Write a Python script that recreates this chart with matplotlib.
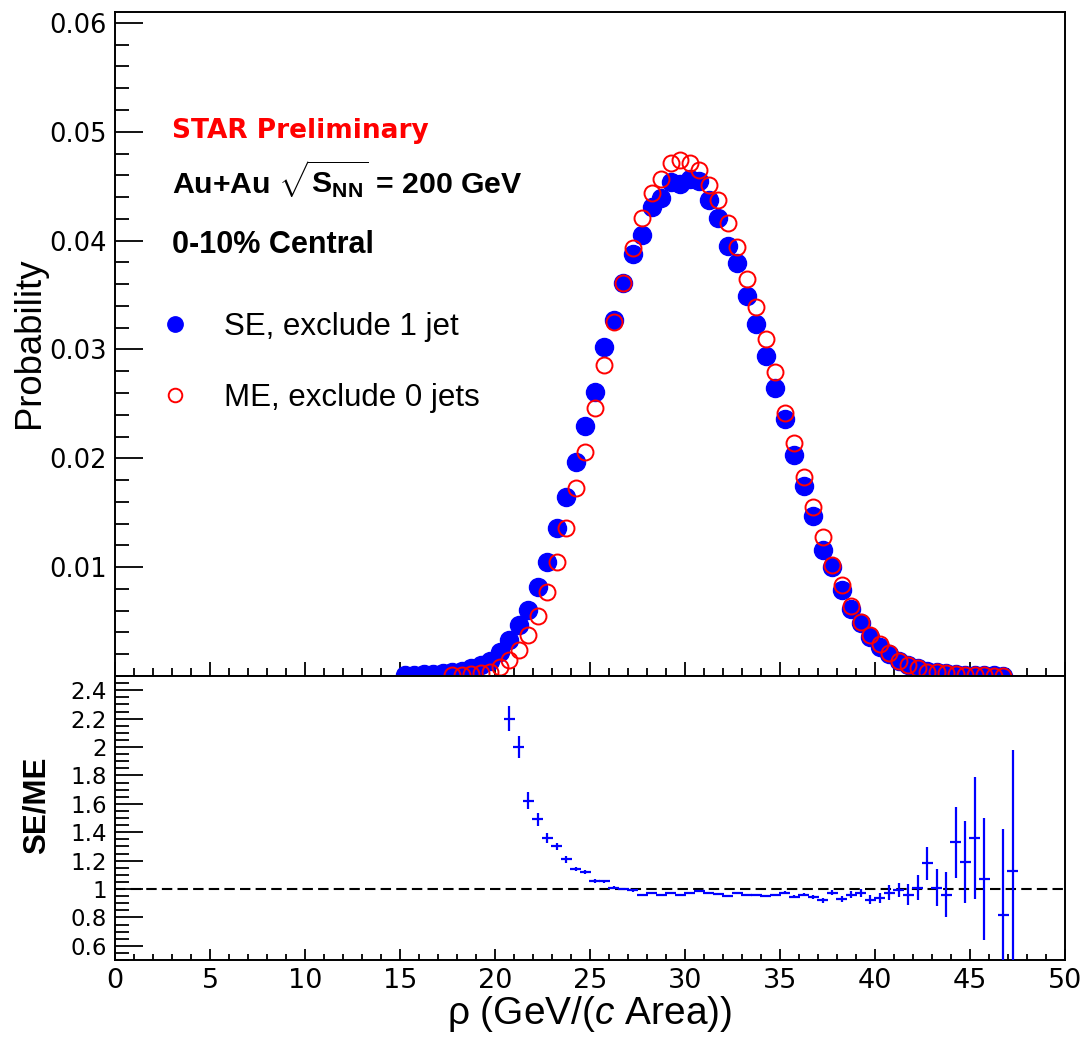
#!/usr/bin/env python3
"""SE vs ME rho distributions with SE/ME ratio panel."""
import matplotlib
matplotlib.use("Agg")
import matplotlib.pyplot as plt
import numpy as np
from matplotlib.ticker import MultipleLocator, FixedLocator

plt.rcParams["mathtext.fontset"] = "custom"
plt.rcParams["mathtext.rm"] = "Liberation Sans"
plt.rcParams["mathtext.it"] = "Liberation Sans:italic"
plt.rcParams["mathtext.bf"] = "Liberation Sans:bold"

BIN_WIDTH = 0.5

# SE, exclude 1 jet: first bin centre 15.25
se_first = 15.25
se_prob = [
    0.0001, 0.0001, 0.00015, 0.0002, 0.0003, 0.0004, 0.0005, 0.0007,
    0.0010, 0.0014, 0.0022, 0.0033, 0.0047, 0.0061, 0.0082, 0.0105,
    0.0136, 0.0164, 0.0197, 0.0230, 0.0261, 0.0302, 0.0327, 0.0361,
    0.0388, 0.0405, 0.0431, 0.0439, 0.0454, 0.0452, 0.0457, 0.0455,
    0.0437, 0.0421, 0.0395, 0.0379, 0.0349, 0.0323, 0.0294, 0.0265,
    0.0236, 0.0203, 0.0175, 0.0147, 0.0116, 0.0100, 0.0079, 0.0062,
    0.0049, 0.0036, 0.0027, 0.0020, 0.0014, 0.0010, 0.0007, 0.0005,
    0.00035, 0.00025, 0.00018, 0.00012, 0.00009, 0.00006, 0.00005, 0.00002,
]

# ME, exclude 0 jets: first bin centre 17.75
me_first = 17.75
me_prob = [
    0.00005, 0.0001, 0.00015, 0.00025, 0.0004, 0.0008, 0.0015, 0.0024,
    0.0038, 0.0055, 0.0077, 0.0105, 0.0136, 0.0173, 0.0206, 0.0246,
    0.0286, 0.0325, 0.0361, 0.0393, 0.0421, 0.0444, 0.0457, 0.0471,
    0.0474, 0.0471, 0.0465, 0.0451, 0.0437, 0.0416, 0.0394, 0.0365,
    0.0339, 0.0310, 0.0279, 0.0242, 0.0214, 0.0183, 0.0155, 0.0128,
    0.0102, 0.0084, 0.0064, 0.0050, 0.0038, 0.0029, 0.0021, 0.0014,
    0.0010, 0.0007, 0.0004, 0.00035, 0.00026, 0.00014, 0.0001, 0.00007,
    0.00006, 0.00004, 0.00003,
]

# SE/ME ratio: first bin centre 20.75 (46.25 empty)
ratio_first = 20.75
ratio = [
    2.20, 2.00, 1.62, 1.49, 1.36, 1.30, 1.21, 1.14, 1.12, 1.055,
    1.055, 1.01, 1.00, 0.99, 0.96, 0.975, 0.96, 0.97, 0.96, 0.975,
    0.985, 0.975, 0.965, 0.95, 0.97, 0.96, 0.96, 0.95, 0.96, 0.975,
    0.945, 0.96, 0.945, 0.92, 0.975, 0.93, 0.96, 0.975, 0.925, 0.935,
    0.975, 0.995, 0.96, 1.01, 1.18, 1.01, 0.96, 1.33, 1.19, 1.36,
    1.07, np.nan, 0.82, 1.13,
]
ratio_err = [
    0.09, 0.075, 0.06, 0.045, 0.035, 0.025, 0.025, 0.015, 0.015, 0.012,
    0.01, 0.01, 0.008, 0.008, 0.007, 0.007, 0.007, 0.007, 0.007, 0.007,
    0.007, 0.007, 0.007, 0.007, 0.007, 0.007, 0.007, 0.008, 0.008, 0.009,
    0.01, 0.011, 0.013, 0.016, 0.018, 0.02, 0.025, 0.028, 0.03, 0.035,
    0.05, 0.05, 0.075, 0.09, 0.117, 0.13, 0.157, 0.25, 0.29, 0.43,
    0.43, np.nan, 0.6, 0.85,
]

labels = ["SE, exclude 1 jet", "ME, exclude 0 jets"]


def centres(first, n):
    return first + BIN_WIDTH * np.arange(n)


W, H = 1086, 1038
fig = plt.figure(figsize=(W / 100, H / 100), dpi=100)
left, right = 115 / W, 1065 / W
ax1 = fig.add_axes([left, 1 - 676 / H, right - left, 664 / H])
ax2 = fig.add_axes([left, 1 - 960 / H, right - left, 284 / H])

sans = "Liberation Sans"
blue, red = "#0000ff", "#ff0000"

# top panel
ax1.plot(centres(se_first, len(se_prob)), se_prob, "o", color=blue, ms=13,
         mec=blue, label=labels[0], zorder=3)
ax1.plot(centres(me_first, len(me_prob)), me_prob, "o", color=red, ms=11.5,
         mfc="none", mew=1.4, label=labels[1], zorder=4)
ax1.set_xlim(0, 50)
ax1.set_ylim(0, 0.061)
ax1.xaxis.set_major_locator(MultipleLocator(5))
ax1.xaxis.set_minor_locator(MultipleLocator(1))
ax1.yaxis.set_major_locator(FixedLocator([0.01, 0.02, 0.03, 0.04, 0.05, 0.06]))
ax1.yaxis.set_minor_locator(MultipleLocator(0.002))
ax1.tick_params(axis="x", which="both", direction="inout", labelbottom=False)
ax1.tick_params(axis="x", which="major", length=20, width=1.3)
ax1.tick_params(axis="x", which="minor", length=11, width=1.3)
ax1.tick_params(axis="y", which="both", direction="in")
ax1.tick_params(axis="y", which="major", length=20, width=1.3, labelsize=18.5, pad=6)
ax1.tick_params(axis="y", which="minor", length=10, width=1.3)
ax1.set_yticklabels(["0.01", "0.02", "0.03", "0.04", "0.05", "0.06"])

ax1.text(172 / W, 1 - 138 / H, "STAR Preliminary", transform=fig.transFigure,
         color=red, fontsize=19, fontweight="bold", family="DejaVu Sans")
ax1.text(172 / W, 1 - 193 / H, r"Au+Au $\sqrt{\mathbf{S}_{\mathbf{NN}}}$ = 200 GeV",
         transform=fig.transFigure, fontsize=21.8, fontweight="bold", family=sans)
ax1.text(172 / W, 1 - 253 / H, "0-10% Central", transform=fig.transFigure,
         fontsize=22, fontweight="bold", family=sans)

ax1.legend(loc="upper left", bbox_to_anchor=(158 / W, 1 - 312 / H),
           bbox_transform=fig.transFigure, frameon=False, borderpad=0,
           borderaxespad=0, numpoints=1, markerscale=0.85, handlelength=1.1,
           handletextpad=1.0, labelspacing=1.32,
           prop={"family": sans, "size": 22.5})

# ratio panel
ax2.axhline(1, color="black", lw=1.5, ls=(0, (5, 2.5)), zorder=1)
ax2.errorbar(centres(ratio_first, len(ratio)), ratio, yerr=ratio_err,
             xerr=BIN_WIDTH / 2 * 1.2, fmt="none", ecolor=blue, elinewidth=1.6,
             capsize=0, zorder=3)
ax2.set_xlim(0, 50)
ax2.set_ylim(0.5, 2.5)
ax2.xaxis.set_major_locator(MultipleLocator(5))
ax2.xaxis.set_minor_locator(MultipleLocator(1))
ax2.yaxis.set_major_locator(FixedLocator([0.6, 0.8, 1.0, 1.2, 1.4, 1.6, 1.8, 2.0, 2.2, 2.4]))
ax2.yaxis.set_minor_locator(MultipleLocator(0.05))
ax2.set_yticklabels(["0.6", "0.8", "1", "1.2", "1.4", "1.6", "1.8", "2", "2.2", "2.4"])
ax2.tick_params(axis="x", which="both", direction="in")
ax2.tick_params(axis="x", which="major", length=8, width=1.3, labelsize=19.5, pad=6)
ax2.tick_params(axis="x", which="minor", length=4, width=1.3)
ax2.tick_params(axis="y", which="both", direction="in")
ax2.tick_params(axis="y", which="major", length=20, width=1.3, labelsize=16.5, pad=6)
ax2.tick_params(axis="y", which="minor", length=10, width=1.3)

for ax in (ax1, ax2):
    for sp in ax.spines.values():
        sp.set_linewidth(1.4)

fig.text(30 / W, 1 - 343 / H, "Probability", rotation=90, ha="center",
         va="center", fontsize=26.3, family=sans)
fig.text(37 / W, 1 - 805 / H, "SE/ME", rotation=90, ha="center", va="center",
         fontsize=22.5, fontweight="bold", family=sans)
fig.text(590 / W, 1 - 1014 / H, r"ρ (GeV/($\mathit{c}$ Area))", ha="center",
         va="center", fontsize=28, family=sans)

fig.savefig("out.png", dpi=100)
